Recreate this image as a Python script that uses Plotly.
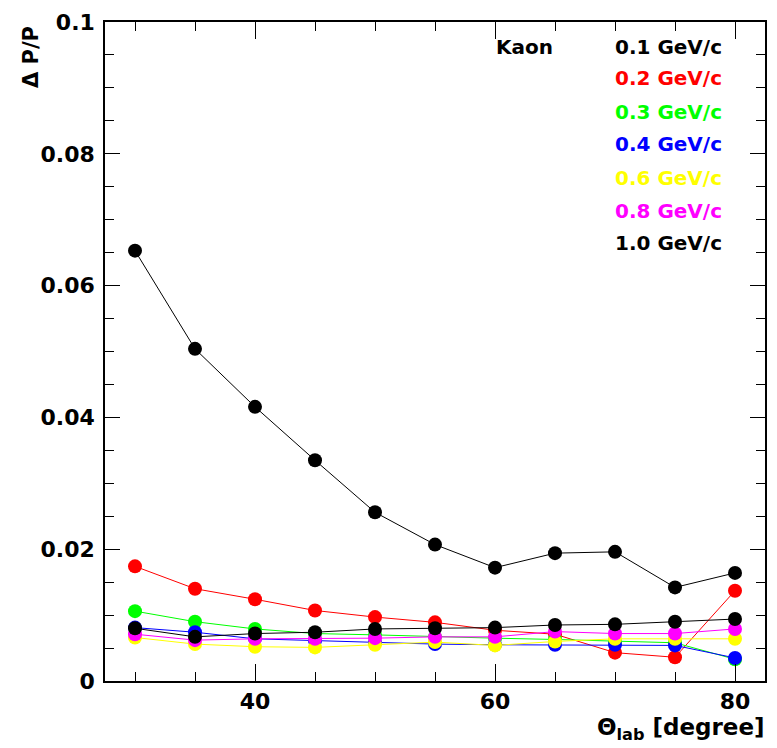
import plotly.graph_objects as go

theta = [30, 35, 40, 45, 50, 55, 60, 65, 70, 75, 80]

p01 = [0.0653, 0.0504, 0.0416, 0.0335, 0.0256, 0.0207, 0.0172, 0.0194, 0.0196, 0.0142, 0.0164]
p02 = [0.0174, 0.0140, 0.0124, 0.0107, 0.0097, 0.0089, 0.0077, 0.0071, 0.0043, 0.0036, 0.0137]
p03 = [0.0106, 0.0090, 0.0079, 0.0072, 0.0070, 0.0067, 0.0065, 0.0063, 0.0060, 0.0058, 0.0033]
p04 = [0.0081, 0.0074, 0.0064, 0.0061, 0.0058, 0.0056, 0.0055, 0.0055, 0.0055, 0.0054, 0.0035]
p06 = [0.0066, 0.0056, 0.0052, 0.0051, 0.0055, 0.0059, 0.0054, 0.0060, 0.0064, 0.0064, 0.0064]
p08 = [0.0071, 0.0062, 0.0064, 0.0064, 0.0065, 0.0067, 0.0067, 0.0075, 0.0072, 0.0072, 0.0079]
p10 = [0.0080, 0.0067, 0.0072, 0.0074, 0.0079, 0.0080, 0.0081, 0.0085, 0.0086, 0.0090, 0.0094]

series = [
    ("0.1 GeV/c", p01, "#000000"),
    ("0.2 GeV/c", p02, "#ff0000"),
    ("0.3 GeV/c", p03, "#00ff00"),
    ("0.4 GeV/c", p04, "#0000ff"),
    ("0.6 GeV/c", p06, "#ffff00"),
    ("0.8 GeV/c", p08, "#ff00ff"),
    ("1.0 GeV/c", p10, "#000000"),
]

y_tickvals = [0, 0.02, 0.04, 0.06, 0.08, 0.1]
y_ticktext = ["0", "0.02", "0.04", "0.06", "0.08", "0.1"]
x_tickvals = [40, 60, 80]
x_ticktext = ["40", "60", "80"]

FONT = "DejaVu Sans"

fig = go.Figure()
for name, vals, col in series:
    fig.add_trace(go.Scatter(
        x=theta, y=vals, mode="lines+markers", name=name,
        line=dict(color=col, width=1),
        marker=dict(color=col, size=14, symbol="circle", line=dict(width=0)),
        showlegend=False,
    ))

fig.update_layout(
    width=777, height=748,
    margin=dict(l=105, r=10, t=13, b=67),
    paper_bgcolor="white", plot_bgcolor="white",
    font=dict(family=FONT, color="black"),
)

fig.update_xaxes(
    range=[27.5, 82.5], showgrid=False, zeroline=False,
    showline=True, linecolor="black", linewidth=1.5, mirror="allticks",
    ticks="inside", ticklen=17, tickwidth=1.2, tickcolor="black",
    tickvals=x_tickvals, ticktext=x_ticktext,
    tickfont=dict(family=FONT, size=22, weight="bold", color="black"),
    ticklabelstandoff=0,
    minor=dict(tickmode="linear", tick0=0, dtick=5, ticks="inside", ticklen=9, tickwidth=1.2, tickcolor="black", showgrid=False),
)
fig.update_yaxes(
    range=[0, 0.1], showgrid=False, zeroline=False,
    showline=True, linecolor="black", linewidth=1.5, mirror="allticks",
    ticks="inside", ticklen=15, tickwidth=1.2, tickcolor="black",
    tickvals=y_tickvals, ticktext=y_ticktext,
    tickfont=dict(family=FONT, size=22, weight="bold", color="black"),
    ticklabelstandoff=4,
    minor=dict(tickmode="linear", tick0=0, dtick=0.005, ticks="inside", ticklen=9, tickwidth=1.2, tickcolor="black", showgrid=False),
)

# axis titles
fig.add_annotation(xref="paper", yref="paper", x=1.003, y=-0.047, xanchor="right", yanchor="top",
                   text="Θ<sub>lab</sub> [degree]", showarrow=False,
                   font=dict(family=FONT, size=23, weight="bold", color="black"))
fig.add_annotation(xref="paper", yref="paper", x=-0.112, y=0.997, xanchor="center", yanchor="top",
                   text="Δ P/P", textangle=-90, showarrow=False,
                   font=dict(family=FONT, size=21, weight="bold", color="black"))

# legend as text
fig.add_annotation(xref="paper", yref="paper", x=(495 - 105) / 661.4, y=(681 - 38) / 668,
                   xanchor="left", yanchor="middle", text="Kaon", showarrow=False,
                   font=dict(family=FONT, size=20, weight="bold", color="black"))
row_y = [38, 70, 104, 137, 171, 205, 237]
for (name, vals, col), yy in zip(series, row_y):
    fig.add_annotation(xref="paper", yref="paper", x=(614 - 105) / 661.4, y=(681 - yy) / 668,
                       xanchor="left", yanchor="middle", text=name, showarrow=False,
                       font=dict(family=FONT, size=20, weight="bold", color=col))

fig.write_html("out.html")
